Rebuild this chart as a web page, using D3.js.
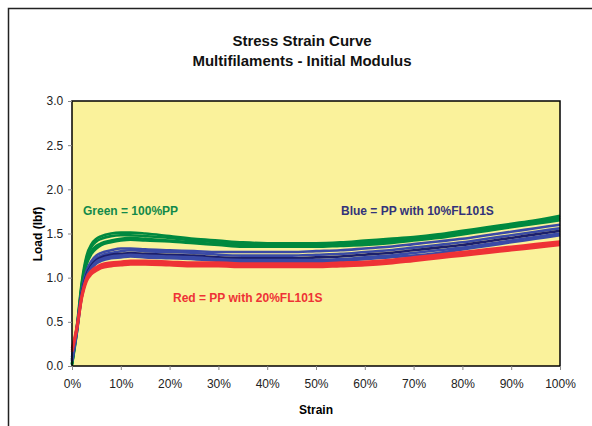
<!DOCTYPE html>
<html><head><meta charset="utf-8">
<script src="https://cdn.jsdelivr.net/npm/d3@7/dist/d3.min.js"></script>
<style>body{margin:0;background:#fff}svg{display:block;font-family:"Liberation Sans",Arial,sans-serif}</style>
</head><body><svg id="c" width="592" height="426"></svg>
<script>
const strain = [0,1,2,3,4,5,6,8,10,12,15,20,25,30,35,40,45,50,55,60,65,70,75,80,85,90,95,100];
const green1 = [0.03,0.45,0.95,1.25,1.38,1.44,1.47,1.50,1.51,1.51,1.50,1.47,1.44,1.42,1.40,1.39,1.39,1.39,1.40,1.42,1.44,1.46,1.49,1.53,1.57,1.61,1.65,1.70];
const green2 = [0.02,0.42,0.92,1.22,1.35,1.41,1.44,1.47,1.48,1.48,1.47,1.45,1.42,1.40,1.38,1.37,1.37,1.37,1.38,1.40,1.42,1.44,1.47,1.51,1.55,1.59,1.63,1.68];
const green3 = [0.02,0.40,0.90,1.18,1.30,1.36,1.39,1.42,1.44,1.45,1.44,1.42,1.40,1.38,1.37,1.36,1.36,1.36,1.37,1.38,1.40,1.43,1.46,1.50,1.54,1.58,1.62,1.66];
const green4 = [0.01,0.38,0.88,1.15,1.27,1.33,1.37,1.40,1.42,1.43,1.42,1.41,1.39,1.37,1.35,1.35,1.35,1.35,1.36,1.37,1.39,1.42,1.45,1.49,1.53,1.57,1.61,1.65];
const blue1 = [0.10,0.45,0.85,1.08,1.19,1.25,1.28,1.31,1.33,1.33,1.32,1.31,1.30,1.29,1.29,1.29,1.29,1.30,1.31,1.33,1.35,1.38,1.41,1.44,1.48,1.52,1.56,1.60];
const blue2 = [0.08,0.43,0.83,1.06,1.16,1.22,1.25,1.28,1.30,1.31,1.30,1.29,1.28,1.26,1.25,1.25,1.25,1.26,1.27,1.29,1.31,1.34,1.37,1.40,1.44,1.48,1.52,1.56];
const navy1 = [0.07,0.42,0.82,1.04,1.14,1.20,1.23,1.26,1.27,1.28,1.27,1.26,1.25,1.23,1.22,1.22,1.22,1.23,1.24,1.26,1.28,1.31,1.34,1.37,1.41,1.45,1.49,1.53];
const blue3 = [0.06,0.40,0.80,1.02,1.12,1.18,1.21,1.24,1.25,1.26,1.25,1.24,1.23,1.21,1.20,1.20,1.20,1.20,1.21,1.23,1.25,1.28,1.31,1.34,1.38,1.42,1.46,1.50];
const blue4 = [0.05,0.38,0.78,1.00,1.10,1.16,1.19,1.22,1.23,1.24,1.23,1.22,1.21,1.19,1.18,1.18,1.18,1.18,1.19,1.21,1.23,1.25,1.28,1.32,1.36,1.40,1.44,1.48];
const red1 = [0.20,0.45,0.80,1.00,1.08,1.12,1.15,1.17,1.18,1.19,1.19,1.18,1.17,1.17,1.16,1.16,1.16,1.16,1.17,1.18,1.20,1.23,1.26,1.29,1.32,1.35,1.38,1.41];
const red2 = [0.18,0.43,0.78,0.98,1.06,1.10,1.13,1.15,1.16,1.17,1.17,1.16,1.15,1.15,1.14,1.14,1.14,1.14,1.15,1.16,1.18,1.21,1.24,1.27,1.30,1.33,1.36,1.39];
const red3 = [0.16,0.41,0.76,0.96,1.04,1.08,1.11,1.13,1.14,1.15,1.15,1.14,1.13,1.13,1.12,1.12,1.12,1.12,1.13,1.14,1.16,1.19,1.22,1.25,1.28,1.31,1.34,1.37];
const xTicks = [0,10,20,30,40,50,60,70,80,90,100];
const yTicks = [0,0.5,1.0,1.5,2.0,2.5,3.0];
const titleLines = ["Stress Strain Curve","Multifilaments - Initial Modulus"];

const curves = [
  {v:green1,c:"#00893f"},{v:green2,c:"#00893f"},{v:green3,c:"#00893f"},{v:green4,c:"#00893f"},
  {v:blue1,c:"#3a4aa6"},{v:blue2,c:"#3a4aa6"},{v:navy1,c:"#1c1f6b"},{v:blue3,c:"#3a4aa6"},{v:blue4,c:"#3a4aa6"},
  {v:red1,c:"#ee3236"},{v:red2,c:"#ee3236"},{v:red3,c:"#ee3236"}
];

const svg = d3.select("#c");
const L=72,R=560,T=101,B=366;
const x = d3.scaleLinear().domain([0,100]).range([L,R]);
const y = d3.scaleLinear().domain([0,3]).range([B,T]);

svg.append("path").attr("d","M8.5,426 L8.5,8.5 L592,8.5").attr("fill","none").attr("stroke","#222").attr("stroke-width",1.5);

svg.append("rect").attr("x",L).attr("y",T).attr("width",R-L).attr("height",B-T).attr("fill","#faf29b");

const line = d3.line().x((d,i)=>x(strain[i])).y(d=>y(d)).curve(d3.curveMonotoneX);
const g = svg.append("g");
curves.forEach(cv=>{
  g.append("path").attr("d",line(cv.v)).attr("fill","none").attr("stroke",cv.c).attr("stroke-width",2.6).attr("stroke-linejoin","round");
});

svg.append("rect").attr("x",L).attr("y",T).attr("width",R-L).attr("height",B-T).attr("fill","none").attr("stroke","#000").attr("stroke-width",1.5);

const xa = svg.append("g").attr("transform",`translate(0,${B})`)
  .call(d3.axisBottom(x).tickValues(xTicks).tickSize(4).tickFormat(d=>d+"%"));
const ya = svg.append("g").attr("transform",`translate(${L},0)`)
  .call(d3.axisLeft(y).tickValues(yTicks).tickSize(4).tickFormat(d3.format(".1f")));
[xa,ya].forEach(a=>{a.select(".domain").remove();a.selectAll("line").attr("stroke","#888");
  a.selectAll("text").attr("font-family","Liberation Sans, Arial, sans-serif").attr("font-size",12).attr("fill","#222");});
xa.selectAll("text").attr("dy","1.25em");
ya.selectAll("text").attr("dx","-0.15em");

titleLines.forEach((t,i)=>svg.append("text").attr("x",302).attr("y",46+i*20).attr("text-anchor","middle")
  .attr("font-size",15).attr("font-weight","bold").attr("fill","#111").text(t));

svg.append("text").attr("x",316).attr("y",414).attr("text-anchor","middle").attr("font-size",12).attr("font-weight","bold").text("Strain");
svg.append("text").attr("transform","translate(42,234) rotate(-90)").attr("text-anchor","middle").attr("font-size",12).attr("font-weight","bold").text("Load (lbf)");

svg.append("text").attr("x",83).attr("y",215).attr("font-size",12).attr("font-weight","bold").attr("fill","#12894a").text("Green = 100%PP");
svg.append("text").attr("x",341).attr("y",215).attr("font-size",12).attr("font-weight","bold").attr("fill","#33337a").text("Blue = PP with 10%FL101S");
svg.append("text").attr("x",173).attr("y",302).attr("font-size",12).attr("font-weight","bold").attr("fill","#ee3236").text("Red = PP with 20%FL101S");
</script></body></html>
